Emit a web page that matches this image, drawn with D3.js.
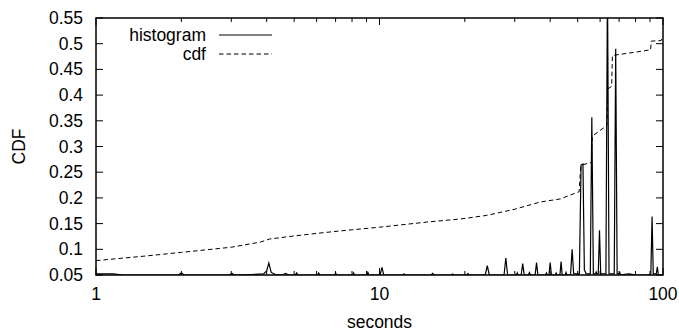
<!DOCTYPE html>
<html>
<head>
<meta charset="utf-8">
<script src="https://cdn.jsdelivr.net/npm/d3@7"></script>
<style>
  html, body { margin: 0; padding: 0; background: #fff; }
  svg { display: block; }
  text { font-family: "Liberation Sans", Arial, Helvetica, sans-serif; fill: #000; }
</style>
</head>
<body>
<script>
// ---- data ----
const histX = [1.00, 1.15, 1.25, 1.95, 2.00, 2.05, 2.95, 3.02, 3.08, 3.50, 3.90, 4.00, 4.07, 4.15, 4.30, 4.55, 4.66, 4.78,
  5.05, 5.10, 5.16, 6.05, 6.10, 6.16, 6.95, 7.00, 7.07, 8.05, 8.10, 8.17, 9.05, 9.10, 9.18, 10.05, 10.2, 10.35,
  12.1, 12.2, 12.3, 15.2, 15.4, 15.6, 17.9, 18.1, 18.3, 20.3, 20.5, 20.7, 23.6, 24.0, 24.4, 27.5, 27.9, 28.3,
  30.4, 30.6, 30.8, 31.6, 32.0, 32.4, 33.5, 33.8, 34.1, 35.4, 35.8, 36.2, 38.5, 38.8, 39.1, 39.6, 40.0, 40.4,
  41.7, 42.0, 42.3, 43.3, 43.7, 44.1, 45.2, 45.5, 45.8, 47.2, 47.8, 48.4, 50.7, 51.4, 52.2, 52.8, 53.6,
  55.4, 56.1, 56.8, 57.8, 58.1, 58.5, 59.1, 59.7, 60.3, 62.9, 63.7, 64.5, 67.3, 68.1, 68.9, 70.0, 70.4, 70.8,
  72.0, 76.0, 80.0, 88.0, 90.6, 91.5, 92.4, 94.7, 95.5, 96.3, 100.0];
const histY = [0.052, 0.052, 0.050, 0.050, 0.054, 0.050, 0.050, 0.053, 0.050, 0.051, 0.052, 0.058, 0.073, 0.055, 0.051, 0.050, 0.053, 0.050,
  0.050, 0.054, 0.050, 0.050, 0.054, 0.050, 0.050, 0.054, 0.050, 0.050, 0.054, 0.050, 0.050, 0.055, 0.050, 0.050, 0.065, 0.050,
  0.050, 0.052, 0.050, 0.050, 0.053, 0.050, 0.050, 0.052, 0.050, 0.050, 0.053, 0.050, 0.050, 0.068, 0.050, 0.050, 0.083, 0.050,
  0.050, 0.054, 0.050, 0.050, 0.072, 0.050, 0.050, 0.055, 0.050, 0.050, 0.074, 0.050, 0.050, 0.054, 0.050, 0.050, 0.074, 0.050,
  0.050, 0.054, 0.050, 0.050, 0.076, 0.050, 0.050, 0.055, 0.050, 0.050, 0.100, 0.052, 0.052, 0.264, 0.266, 0.060, 0.052,
  0.052, 0.357, 0.052, 0.052, 0.056, 0.052, 0.052, 0.137, 0.052, 0.052, 0.620, 0.052, 0.052, 0.490, 0.052, 0.052, 0.055, 0.051,
  0.051, 0.052, 0.050, 0.050, 0.052, 0.164, 0.052, 0.052, 0.066, 0.050, 0.050];

const cdfX = [1.00, 1.5, 2.0, 3.0, 3.8, 4.1, 5.0, 6.5, 8.0, 10.0, 14.7, 19.3, 23.9, 30.0, 36.9, 43.4, 50.6,
  51.3, 52.5, 55.9, 56.3, 63.4, 63.8, 65.9, 66.3, 90.4, 90.9, 98.5, 99.0, 100.0];
const cdfY = [0.078, 0.087, 0.094, 0.104, 0.114, 0.120, 0.126, 0.133, 0.138, 0.143, 0.153, 0.159, 0.166, 0.178, 0.192, 0.198, 0.212,
  0.263, 0.265, 0.269, 0.320, 0.341, 0.412, 0.417, 0.477, 0.488, 0.505, 0.506, 0.509, 0.510];

const xMajorTicks = [1, 10, 100];
const xTickLabels = ["1", "10", "100"];
const xMinorTicks = [2, 3, 4, 5, 6, 7, 8, 9, 20, 30, 40, 50, 60, 70, 80, 90];
const yTicks = [0.05, 0.1, 0.15, 0.2, 0.25, 0.3, 0.35, 0.4, 0.45, 0.5, 0.55];
const yTickLabels = ["0.05", "0.1", "0.15", "0.2", "0.25", "0.3", "0.35", "0.4", "0.45", "0.5", "0.55"];
const seriesNames = ["histogram", "cdf"];

// ---- layout ----
const W = 679, H = 331;
const L = 96, R = 663, T = 18, B = 275;
const fs = 17.5;

const svg = d3.select("body").append("svg").attr("width", W).attr("height", H);

const x = d3.scaleLog().domain([1, 100]).range([L, R]);
const y = d3.scaleLinear().domain([0.05, 0.55]).range([B, T]);

svg.append("defs").append("clipPath").attr("id", "clip")
  .append("rect").attr("x", L).attr("y", T).attr("width", R - L).attr("height", B - T);

// ticks (inward, all four sides)
const tk = svg.append("g").attr("stroke", "#000").attr("stroke-width", 1);
yTicks.forEach(v => {
  tk.append("line").attr("x1", L).attr("x2", L + 7).attr("y1", y(v)).attr("y2", y(v));
  tk.append("line").attr("x1", R).attr("x2", R - 7).attr("y1", y(v)).attr("y2", y(v));
});
xMajorTicks.forEach(v => {
  tk.append("line").attr("x1", x(v)).attr("x2", x(v)).attr("y1", B).attr("y2", B - 7);
  tk.append("line").attr("x1", x(v)).attr("x2", x(v)).attr("y1", T).attr("y2", T + 7);
});
xMinorTicks.forEach(v => {
  tk.append("line").attr("x1", x(v)).attr("x2", x(v)).attr("y1", B).attr("y2", B - 4);
  tk.append("line").attr("x1", x(v)).attr("x2", x(v)).attr("y1", T).attr("y2", T + 4);
});

// tick labels
yTicks.forEach((v, i) => {
  svg.append("text").attr("x", L - 13).attr("y", y(v) + 6)
    .attr("text-anchor", "end").attr("font-size", fs).text(yTickLabels[i]);
});
xMajorTicks.forEach((v, i) => {
  svg.append("text").attr("x", x(v)).attr("y", 300)
    .attr("text-anchor", "middle").attr("font-size", fs).text(xTickLabels[i]);
});

// axis titles
svg.append("text").attr("x", (L + R) / 2).attr("y", 328)
  .attr("text-anchor", "middle").attr("font-size", fs).text("seconds");
svg.append("text").attr("transform", `translate(25,${(T + B) / 2}) rotate(-90)`)
  .attr("text-anchor", "middle").attr("font-size", fs).text("CDF");

// series
const histData = histX.map((v, i) => [v, histY[i]]);
const cdfData = cdfX.map((v, i) => [v, cdfY[i]]);
const line = d3.line().x(d => x(d[0])).y(d => y(d[1]));

const plot = svg.append("g").attr("clip-path", "url(#clip)");
plot.append("path").datum(cdfData).attr("d", line)
  .attr("fill", "none").attr("stroke", "#000").attr("stroke-width", 1)
  .attr("stroke-dasharray", "4.5,3");
plot.append("path").datum(histData).attr("d", line)
  .attr("fill", "none").attr("stroke", "#000").attr("stroke-width", 1.2)
  .attr("stroke-linejoin", "miter");

// legend
const legY = [35, 54];
seriesNames.forEach((n, i) => {
  svg.append("text").attr("x", 206).attr("y", legY[i] + 6)
    .attr("text-anchor", "end").attr("font-size", fs).text(n);
  svg.append("line").attr("x1", 219).attr("x2", 272).attr("y1", legY[i]).attr("y2", legY[i])
    .attr("stroke", "#000").attr("stroke-width", 1)
    .attr("stroke-dasharray", i === 1 ? "4.5,3" : null);
});

// frame
svg.append("rect").attr("x", L).attr("y", T).attr("width", R - L).attr("height", B - T)
  .attr("fill", "none").attr("stroke", "#000").attr("stroke-width", 1.5);
</script>
</body>
</html>
